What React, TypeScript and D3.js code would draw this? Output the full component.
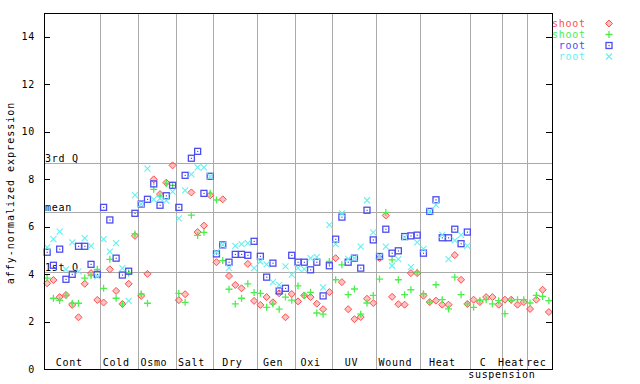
import React from "react";
import * as d3 from "d3";

const groups = ["Cont", "Cold", "Osmo", "Salt", "Dry", "Gen", "Oxi", "UV", "Wound", "Heat", "C", "Heat", "rec"];
const groupSizes = [9, 6, 6, 6, 7, 6, 6, 7, 7, 8, 5, 4, 4];
const yTicks = [0, 2, 4, 6, 8, 10, 12, 14];
const refLabels = ["3rd Q", "mean", "1st Q"];
const refValues = [8.68, 6.61, 4.08];

const shoot1: (number | null)[] = [
  3.61, 3.75, 3.03, 3.12, 2.70, 2.18, 3.59, 4.04, 2.91,
  2.80, 4.20, 3.29, 2.74, 3.59, 5.61,
  3.08, 4.01, 7.99, 7.37, 7.85, 8.58,
  2.90, 3.15, 7.44, 5.77, 6.04, 7.32,
  4.50, 7.15, 3.92, 3.54, 3.40, 4.43, 2.87,
  2.70, 3.03, 2.81, 3.19, 2.18, 3.16,
  2.85, 3.10, 3.03, 2.75, 2.52, 3.24,
  4.67, 3.66, 2.52, 2.10, 2.19, 2.96, 2.78,
  4.67, 6.47, 3.04, 2.73, 2.71, 4.04, 4.04,
  3.09, 2.82, 2.88, 2.71, 2.71, 4.80, 3.76, 2.74,
  2.92, 2.82, 3.03, 3.03, 2.71,
  2.92, 2.92, 2.71, 2.82,
  2.53, 2.92, 3.34, 2.40,
];
const shoot2: (number | null)[] = [
  3.83, 2.98, 2.89, 3.10, 2.77, 2.77, 3.83, 3.94, 4.20,
  3.40, 4.62, 2.98, 2.74, 4.04, 5.69,
  3.16, 2.77, 7.57, 7.29, 7.82, 7.74,
  3.19, 2.81, 6.48, 5.63, 5.76, 7.40,
  7.12, 4.57, 3.36, 2.74, 2.98, 3.59, 3.22,
  3.19, 2.60, 2.74, 2.52, 3.03, 2.90,
  3.50, 3.10, 3.23, 2.36, 2.31, 4.53,
  3.76, 4.39, 3.13, 3.37, 2.31, 2.78, 3.10,
  3.79, 6.59, 4.60, 3.76, 3.13, 3.34, 4.08,
  3.17, 2.82, 3.55, 2.92, 2.53, 3.87, 3.13, 2.74,
  2.60, 2.89, 2.92, 2.74, 2.88,
  2.33, 2.89, 2.92, 2.92,
  2.78, 3.10, 3.06, 2.88,
];
const root1: (number | null)[] = [
  4.92, 4.37, 5.05, 3.78, 3.99, 5.17, 5.17, 4.41, 3.99,
  6.81, 6.28, 4.67, 3.96, 4.12, 6.56,
  6.95, 7.15, 7.80, 6.90, 7.30, 7.74,
  6.81, 8.16, 8.88, 9.17, 7.40, 8.12,
  4.85, 5.23, 4.50, 4.83, 4.83, 4.79, 5.38,
  4.75, 3.87, 4.46, 3.29, 3.40, 4.79,
  4.50, 4.50, 4.18, 4.50, 3.08, 4.35,
  5.47, 6.40, 4.50, 4.67, 4.25, 6.69, 5.44,
  4.74, 5.89, 4.88, 4.98, 5.58, 5.61, 5.64,
  4.88, 6.64, 7.13, 5.53, 5.53, 5.89, 5.28, 5.77,
  null, null, null, null, null,
  null, null, null, null,
  null, null, null, null,
];
const root2: (number | null)[] = [
  5.12, 5.47, 5.79, 4.20, 5.34, 4.11, 5.51, 5.19, 3.90,
  5.47, 4.95, 5.30, 4.25, 2.87, 7.33,
  6.95, 8.44, 7.15, 7.19, 7.09, 7.47,
  6.35, 7.53, 8.20, 8.50, 8.50, 8.12,
  4.92, 5.23, 4.26, 5.19, 5.26, 5.30, 4.25,
  4.53, 4.41, 3.66, 3.54, 4.32, 3.98,
  4.25, 4.21, 4.67, 4.71, 3.44, 6.07,
  5.26, 6.56, 4.64, 4.67, 5.16, 7.11, 5.76,
  4.74, 5.16, 4.35, 4.63, 5.55, 4.29, 5.34,
  5.06, 6.64, 6.92, 5.65, 4.63, 5.42, 5.65, 5.19,
  null, null, null, null, null,
  null, null, null, null,
  null, null, null, null,
];

const seriesNames = ["shoot", "shoot", " root", " root"];
const seriesColors = ["#ff4c4c", "#4cee4c", "#4c4cf0", "#66f0f0"];
const seriesShapes = ["diamond", "plus", "square", "cross"];
const seriesData = [shoot1, shoot2, root1, root2];

const W = 640;
const H = 384;
const FONT = "'DejaVu Sans Mono', monospace";

function Marker({ shape, x, y, color }: { shape: string; x: number; y: number; color: string }) {
  const r = 3.5;
  if (shape === "diamond") {
    return (
      <path
        d={`M${x},${y - r}L${x + r},${y}L${x},${y + r}L${x - r},${y}Z`}
        fill={color}
        fillOpacity={0.35}
        stroke={color}
        strokeWidth={1}
      />
    );
  }
  if (shape === "plus") {
    return (
      <path d={`M${x - r},${y}H${x + r}M${x},${y - r}V${y + r}`} stroke={color} strokeWidth={1.3} fill="none" />
    );
  }
  if (shape === "square") {
    return (
      <g>
        <rect x={x - 3} y={y - 3} width={6} height={6} fill="none" stroke={color} strokeWidth={1.3} />
        <rect x={x - 0.5} y={y - 0.5} width={1.2} height={1.2} fill={color} />
      </g>
    );
  }
  const c = 3;
  return (
    <path
      d={`M${x - c},${y - c}L${x + c},${y + c}M${x - c},${y + c}L${x + c},${y - c}`}
      stroke={color}
      strokeWidth={1.1}
      fill="none"
    />
  );
}

export default function App() {
  const nCols = d3.sum(groupSizes);
  const left = 44;
  const right = 552;
  const top = 13;
  const bottom = 369;
  const x = d3.scaleLinear().domain([0.5, nCols + 0.5]).range([left, right]);
  const y = d3.scaleLinear().domain([0, 15]).range([bottom, top]);

  const bounds: number[] = [];
  let acc = 0;
  const centers: number[] = [];
  groupSizes.forEach((s) => {
    centers.push(acc + s / 2 + 0.5);
    acc += s;
    bounds.push(acc + 0.5);
  });

  return (
    <svg width={W} height={H} style={{ position: "absolute", left: 0, top: 0, background: "#fff" }}>
      <rect x={0} y={0} width={W} height={H} fill="#fff" />
      {bounds.slice(0, -1).map((b, i) => (
        <line key={"d" + i} x1={Math.round(x(b)) + 0.5} x2={Math.round(x(b)) + 0.5} y1={top} y2={bottom} stroke="#aaaaaa" strokeWidth={1} />
      ))}
      {refValues.map((v, i) => (
        <g key={"r" + i}>
          <line x1={left} x2={right} y1={Math.round(y(v)) + 0.5} y2={Math.round(y(v)) + 0.5} stroke="#aaaaaa" strokeWidth={1} />
          <text x={left + 1} y={Math.round(y(v)) - 1} fontFamily={FONT} fontSize={10} letterSpacing={0.7} fill="#000">
            {refLabels[i]}
          </text>
        </g>
      ))}
      {seriesData.map((data, si) =>
        data.map((v, i) =>
          v == null ? null : (
            <Marker key={si + "-" + i} shape={seriesShapes[si]} x={x(i + 1)} y={y(v)} color={seriesColors[si]} />
          )
        )
      )}
      <rect x={left + 0.5} y={top + 0.5} width={right - left} height={bottom - top} fill="none" stroke="#000" strokeWidth={1} />
      {yTicks.map((t) => (
        <g key={"t" + t}>
          <line x1={left} x2={left + 6} y1={Math.round(y(t)) + 0.5} y2={Math.round(y(t)) + 0.5} stroke="#000" />
          <line x1={right - 6} x2={right} y1={Math.round(y(t)) + 0.5} y2={Math.round(y(t)) + 0.5} stroke="#000" />
          <text x={35} y={y(t) + 3.5} textAnchor="end" fontFamily={FONT} fontSize={10} letterSpacing={0.7} fill="#000">
            {t}
          </text>
        </g>
      ))}
      {groups.map((g, i) => (
        <text key={"g" + i} x={x(centers[i]) - 3} y={366} textAnchor="middle" fontFamily={FONT} fontSize={10} letterSpacing={0.7} fill="#000">
          {g}
        </text>
      ))}
      <text x={x(bounds[10])} y={378} textAnchor="middle" fontFamily={FONT} fontSize={10} letterSpacing={0.7} fill="#000">
        suspension
      </text>
      <text
        transform={`translate(14, ${(top + bottom) / 2 + 2}) rotate(-90)`}
        textAnchor="middle"
        fontFamily={FONT}
        fontSize={10}
        letterSpacing={1}
        fill="#000"
      >
        affy-normalized expression
      </text>
      {seriesNames.map((n, i) => (
        <g key={"l" + i}>
          <text
            x={552}
            y={27 + i * 11}
            fontFamily={FONT}
            fontSize={10}
            letterSpacing={0.7}
            fill={seriesColors[i]}
            style={{ whiteSpace: "pre" }}
          >
            {n}
          </text>
          <Marker shape={seriesShapes[i]} x={609} y={23.5 + i * 11} color={seriesColors[i]} />
        </g>
      ))}
    </svg>
  );
}
